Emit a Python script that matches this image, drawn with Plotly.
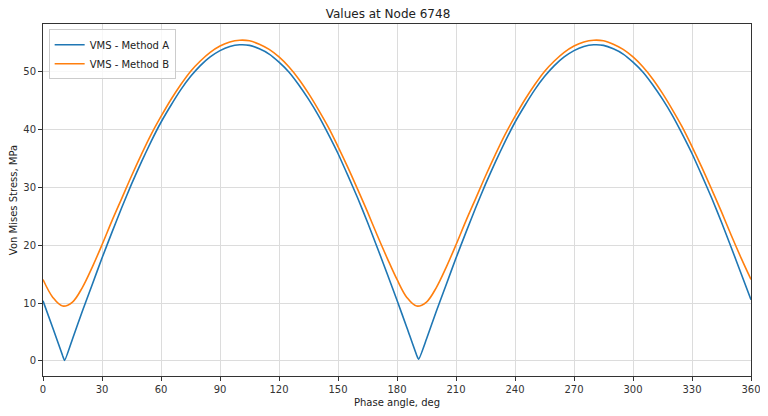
import plotly.graph_objects as go

# phase angle samples for method A, deg (extra points at the cusps)
phase_a = [0, 5, 10, 11, 15, 20, 25, 30, 35, 40, 45, 50, 55, 60, 65, 70, 75, 80, 85, 90,
           95, 100, 105, 110, 115, 120, 125, 130, 135, 140, 145, 150, 155, 160, 165, 170,
           175, 180, 185, 190, 191, 195, 200, 205, 210, 215, 220, 225, 230, 235, 240, 245,
           250, 255, 260, 265, 270, 275, 280, 285, 290, 295, 300, 305, 310, 315, 320, 325,
           330, 335, 340, 345, 350, 355, 360]

# phase angle samples for method B, deg
phase_b = [0, 5, 10, 15, 20, 25, 30, 35, 40, 45, 50, 55, 60, 65, 70, 75, 80, 85, 90,
           95, 100, 105, 110, 115, 120, 125, 130, 135, 140, 145, 150, 155, 160, 165, 170,
           175, 180, 185, 190, 195, 200, 205, 210, 215, 220, 225, 230, 235, 240, 245,
           250, 255, 260, 265, 270, 275, 280, 285, 290, 295, 300, 305, 310, 315, 320, 325,
           330, 335, 340, 345, 350, 355, 360]

# von Mises stress, MPa
vms_a = [10.4, 5.7, 0.9, 0.1, 3.8, 8.6, 13.2, 17.8, 22.2, 26.5, 30.6, 34.4, 38.0, 41.3,
         44.2, 46.9, 49.2, 51.1, 52.6, 53.7, 54.4, 54.7, 54.6, 54.0, 53.1, 51.7, 50.0,
         47.8, 45.3, 42.5, 39.3, 35.9, 32.1, 28.2, 24.0, 19.6, 15.1, 10.5, 5.8, 1.0, 0.3,
         3.8, 8.6, 13.2, 17.8, 22.2, 26.5, 30.6, 34.4, 38.0, 41.3, 44.2, 46.9, 49.2, 51.1,
         52.6, 53.7, 54.4, 54.7, 54.6, 54.0, 53.1, 51.7, 50.0, 47.8, 45.3, 42.5, 39.3,
         35.9, 32.1, 28.2, 24.0, 19.6, 15.1, 10.6]

vms_b = [14.1, 11.0, 9.5, 10.2, 12.7, 16.2, 20.1, 24.2, 28.1, 32.0, 35.7, 39.2,
         42.3, 45.2, 47.8, 50.1, 51.9, 53.4, 54.5, 55.2, 55.5, 55.4, 54.8, 53.9, 52.6,
         50.9, 48.8, 46.3, 43.5, 40.5, 37.1, 33.5, 29.7, 25.8, 21.7, 17.8, 14.1, 11.0,
         9.5, 10.2, 12.7, 16.2, 20.1, 24.2, 28.1, 32.0, 35.7, 39.2, 42.3, 45.2,
         47.8, 50.1, 51.9, 53.4, 54.5, 55.2, 55.5, 55.4, 54.8, 53.9, 52.6, 50.9, 48.8,
         46.3, 43.5, 40.5, 37.1, 33.5, 29.7, 25.8, 21.7, 17.8, 14.1]

fig = go.Figure()
fig.add_trace(go.Scatter(x=phase_a, y=vms_a, mode="lines", name="VMS - Method A",
                         line=dict(color="#1f77b4", width=1.6, shape="spline", smoothing=0.5)))
fig.add_trace(go.Scatter(x=phase_b, y=vms_b, mode="lines", name="VMS - Method B",
                         line=dict(color="#ff7f0e", width=1.6, shape="spline", smoothing=1.0)))

axis_common = dict(
    showgrid=True, gridcolor="#dcdcdc", gridwidth=1,
    showline=True, linecolor="#333333", linewidth=1, mirror=True,
    ticks="outside", ticklen=4, tickcolor="#333333",
    tickfont=dict(family="DejaVu Sans", size=10, color="#333333"),
    zeroline=False, automargin=False,
)

# page body has an 8px margin, so the figure is a bit smaller than the window
fig.update_layout(
    width=760, height=408,
    margin=dict(l=35, r=17, t=16, b=40, autoexpand=False),
    paper_bgcolor="white", plot_bgcolor="white",
    font=dict(family="DejaVu Sans", size=10, color="#222222"),
    title=dict(text="Values at Node 6748", x=0.5, xanchor="center", y=0.986, yanchor="middle",
               font=dict(size=12, color="#222222")),
    xaxis=dict(axis_common, range=[0, 360], tickvals=[0, 30, 60, 90, 120, 150, 180, 210, 240, 270, 300, 330, 360],
               title=dict(text="Phase angle, deg", standoff=4, font=dict(size=10))),
    yaxis=dict(axis_common, range=[-2.6, 58.3], tickvals=[0, 10, 20, 30, 40, 50],
               title=dict(text="Von Mises Stress, MPa", standoff=5, font=dict(size=10))),
    legend=dict(x=0.008, y=0.985, xanchor="left", yanchor="top",
                bgcolor="rgba(255,255,255,0.8)", bordercolor="#cccccc", borderwidth=1,
                font=dict(size=10, color="#222222"), tracegroupgap=0),
    showlegend=True,
)

fig.write_html("out.html")
